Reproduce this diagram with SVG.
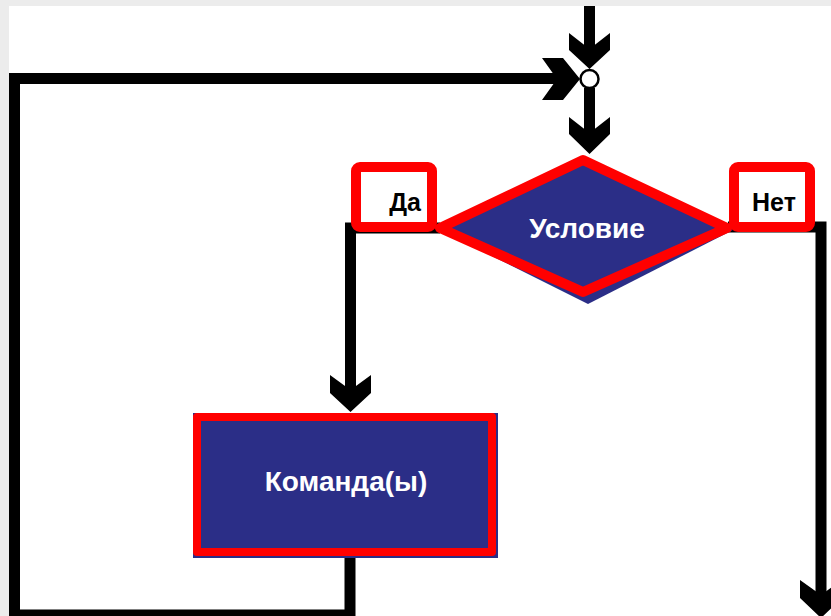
<svg xmlns="http://www.w3.org/2000/svg" width="831" height="616" viewBox="0 0 831 616">
<defs>
<style>
.line{fill:none;stroke:#000;stroke-width:11;stroke-linejoin:miter}
.head{fill:#000}
.navy{fill:#2b2e87}
.redline{fill:none;stroke:#ff0000;stroke-linejoin:round}
.wt{font-family:"Liberation Sans",Arial,sans-serif;font-weight:bold;font-size:28px;fill:#ffffff;text-anchor:middle}
.bt{font-family:"Liberation Sans",Arial,sans-serif;font-weight:bold;font-size:25px;fill:#000000}
</style>
</defs>
<rect x="0" y="0" width="831" height="616" fill="#ececec"/>
<rect x="9" y="6" width="822" height="610" fill="#ffffff"/>
<g id="connectors">
<line class="line" x1="589.5" y1="6" x2="589.5" y2="50"/>
<polygon class="head" points="569,33 589.5,49 610,33 610,50 589.5,69 569,50"/>
<line class="line" x1="589.5" y1="88" x2="589.5" y2="135"/>
<polygon class="head" points="569,117 589.5,133 610,117 610,134 589.5,154 569,134"/>
<path class="line" d="M350,556 V615 H14.5 V78.5 H560"/>
<polygon class="head" points="542,58 563,58 580,79 563,100 542,100 557,79"/>
<path class="line" d="M440,228 H350.5 V395"/>
<polygon class="head" points="330,375 350.5,390 371,375 371,393 350.5,412 330,393"/>
<path class="line" d="M728,227 H821 V600"/>
<polygon class="head" points="800,580 821,595 842,580 842,598 821,618 800,598"/>
</g>
<g id="junction">
<circle cx="589.5" cy="79" r="9" fill="#ffffff" stroke="#000" stroke-width="2.5"/>
</g>
<g id="condition">
<polygon class="navy" points="585,157 733,230 588,304 440,230"/>
<polygon class="redline" stroke-width="10" points="583,160 727,228 583,292 440,228"/>
<text class="wt" x="587" y="238">Условие</text>
</g>
<g id="label-da">
<rect x="356" y="167" width="76" height="60" rx="4" fill="#ffffff" stroke="#ff0000" stroke-width="10"/>
<text class="bt" x="421" y="211" text-anchor="end">Да</text>
</g>
<g id="label-net">
<rect x="734" y="167" width="76" height="60" rx="4" fill="#ffffff" stroke="#ff0000" stroke-width="10"/>
<text class="bt" x="774" y="211" text-anchor="middle">Нет</text>
</g>
<g id="command">
<rect class="navy" x="193" y="413" width="305" height="145"/>
<rect x="197" y="417" width="295" height="135" class="redline" stroke-width="8" stroke-linejoin="miter"/>
<text class="wt" x="346" y="491">Команда(ы)</text>
</g>
</svg>
